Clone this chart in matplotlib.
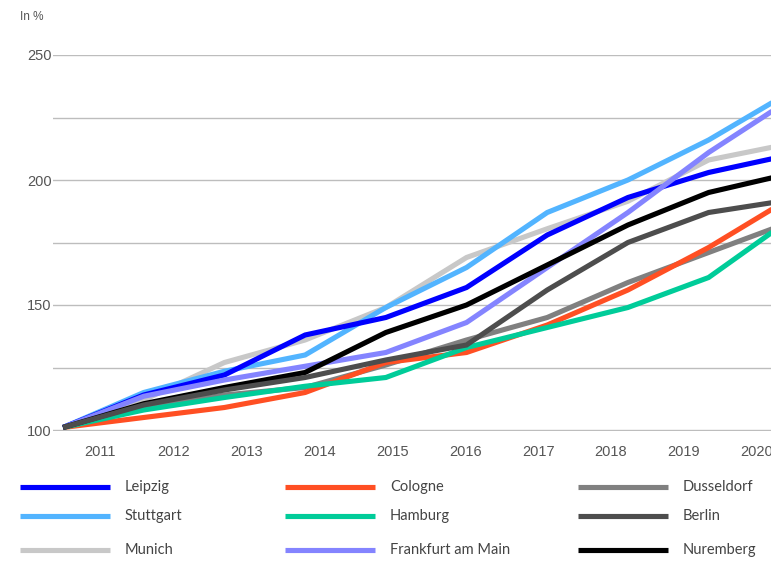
import numpy as np
import matplotlib
matplotlib.use("Agg")
import matplotlib.pyplot as plt
from matplotlib.lines import Line2D

# Index of each observation (10 points, last one runs past the right edge)
points = np.arange(10)
years = ["2011", "2012", "2013", "2014", "2015", "2016", "2017", "2018", "2019", "2020"]

leipzig = [101, 114, 122, 138, 145, 157, 178, 193, 203, 210]
cologne = [101, 105, 109, 115, 127, 131, 142, 156, 173, 192.5]
dusseldorf = [101, 109, 114, 117, 126, 136, 145, 159, 171, 183]
stuttgart = [101, 115, 123.5, 130, 149, 165, 187, 200, 216, 235]
hamburg = [101, 108, 113, 117.5, 121, 133, 141, 149, 161, 184]
berlin = [101, 110, 116, 121, 128, 134, 156, 175, 187, 192]
munich = [101, 112, 127, 136, 149, 169, 180.5, 191.5, 208, 214.5]
frankfurt = [101, 113.5, 120, 125.5, 131, 143, 165, 187, 211, 232]
nuremberg = [101, 110.5, 117, 123, 139, 150, 166, 182, 195, 202.5]

names = ["Leipzig", "Cologne", "Dusseldorf", "Stuttgart", "Hamburg", "Berlin",
         "Munich", "Frankfurt am Main", "Nuremberg"]
series = [leipzig, cologne, dusseldorf, stuttgart, hamburg, berlin,
          munich, frankfurt, nuremberg]
colors = ["#0000ff", "#ff4f23", "#808080", "#52b4ff", "#00cc99", "#4d4d4d",
          "#c8c8c8", "#8484ff", "#000000"]
# drawing order (later = on top)
draw_order = [2, 1, 4, 6, 3, 0, 7, 8, 5]

W, H = 771, 570
fig = plt.figure(figsize=(W / 100, H / 100), dpi=100)
# 2.5 px per unit on y; bottom a hair below 100 so the base gridline shows
ax = fig.add_axes([53 / W, (H - 431) / H, (W - 53) / W, (431 - 55) / H])

for i in draw_order:
    ax.plot(points, series[i], color=colors[i], lw=3.7,
            solid_joinstyle="miter", solid_capstyle="butt")

ax.set_xlim(-0.124, 8.773)
ax.set_ylim(99.6, 250)
ax.set_yticks([100, 150, 200, 250])
ax.set_yticks([125, 175, 225], minor=True)
ax.set_xticks(np.linspace(0.46, 8.6, 10))
ax.set_xticklabels(years)
ax.yaxis.grid(True, which="both", color="#bdbdbd", lw=1)
ax.set_axisbelow(True)
for s in ax.spines.values():
    s.set_visible(False)
ax.tick_params(axis="y", which="both", length=0, pad=1, labelsize=10.5,
               labelcolor="#555555")
ax.tick_params(axis="x", length=0, pad=10, labelsize=10.5, labelcolor="#555555")
for lab in ax.get_xticklabels() + ax.get_yticklabels():
    lab.set_fontfamily("Liberation Sans")

fig.text(20 / W, 1 - 17 / H, "In %", fontsize=8.5, color="#555555",
         va="center", family="Liberation Sans")

# legend laid out in three columns, row by row
col_x = [20, 285, 578]
row_y = [487, 516, 550]
for k in range(len(names)):
    r, c = divmod(k, 3)
    x0 = col_x[c]
    y0 = 1 - row_y[r] / H
    fig.add_artist(Line2D([x0 / W, (x0 + 90) / W], [y0, y0], color=colors[k],
                          lw=3.7, solid_capstyle="butt"))
    fig.text((x0 + 105) / W, y0, names[k], fontsize=10.5, color="#444444",
             va="center", family="Lato")

fig.savefig("out.png", dpi=100)
